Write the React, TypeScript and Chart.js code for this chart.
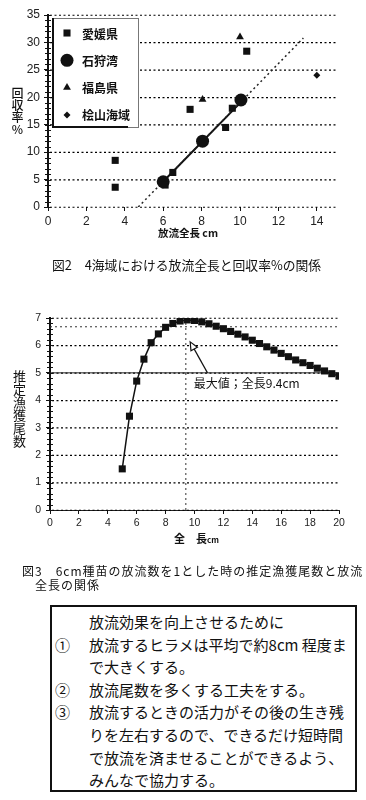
import React, { useEffect, useRef } from "react";
import { Chart, registerables } from "chart.js";

Chart.register(...registerables);

// ---------- 図2 data ----------
const regionNames = ["愛媛県", "石狩湾", "福島県", "桧山海域"];
const ehimeLen = [3.5, 3.5, 6.1, 6.5, 7.4, 9.25, 9.6, 10.35];
const ehimeRate = [8.5, 3.6, 4.0, 6.3, 17.8, 14.5, 18.0, 28.4];
const ishikariLen = [6.0, 8.05, 10.05];
const ishikariRate = [4.6, 12.0, 19.5];
const fukushimaLen = [8.05, 10.0];
const fukushimaRate = [19.6, 31.0];
const hiyamaLen = [14.0];
const hiyamaRate = [24.0];
const trendDotLen = [4.7, 13.3];
const trendDotRate = [0, 30.8];
const trendSolidLen = [6.0, 10.1];
const trendSolidRate = [4.65, 19.3];
const fig2XTicks = [0, 2, 4, 6, 8, 10, 12, 14];
const fig2YTicks = [0, 5, 10, 15, 20, 25, 30, 35];

// ---------- 図3 data ----------
const releaseLen = [
  5, 5.5, 6, 6.5, 7, 7.5, 8, 8.5, 9, 9.5, 10, 10.5, 11, 11.5, 12, 12.5, 13,
  13.5, 14, 14.5, 15, 15.5, 16, 16.5, 17, 17.5, 18, 18.5, 19, 19.5, 20,
];
const estCatch = [
  1.5, 3.42, 4.7, 5.5, 6.1, 6.42, 6.66, 6.8, 6.89, 6.93, 6.91, 6.86, 6.79,
  6.7, 6.61, 6.51, 6.41, 6.31, 6.19, 6.07, 5.95, 5.83, 5.71, 5.59, 5.47, 5.37,
  5.27, 5.17, 5.07, 4.97, 4.88,
];
const fig3XTicks = [0, 2, 4, 6, 8, 10, 12, 14, 16, 18, 20];
const fig3YTicks = [0, 1, 2, 3, 4, 5, 6, 7];
const maxLen = 9.4;
const baseLevel = 5;
const refLevel = 6.68;

const pts = (xs: number[], ys: number[]) => xs.map((x, i) => ({ x, y: ys[i] }));

const INK = "#111";

function drawMarker(ctx: CanvasRenderingContext2D, style: string, x: number, y: number, r: number) {
  ctx.beginPath();
  if (style === "rect") {
    const s = Math.SQRT1_2 * r;
    ctx.rect(x - s, y - s, 2 * s, 2 * s);
  } else if (style === "circle") {
    ctx.arc(x, y, r, 0, Math.PI * 2);
  } else if (style === "triangle") {
    ctx.moveTo(x, y - r);
    ctx.lineTo(x + r * 0.87, y + r * 0.5);
    ctx.lineTo(x - r * 0.87, y + r * 0.5);
    ctx.closePath();
  } else {
    ctx.moveTo(x, y - r);
    ctx.lineTo(x + r, y);
    ctx.lineTo(x, y + r);
    ctx.lineTo(x - r, y);
    ctx.closePath();
  }
  ctx.fill();
}

// dotted horizontal grid lines at the y scale's ticks
const dottedGrid = {
  id: "dottedGrid",
  beforeDatasetsDraw(chart: any) {
    const { ctx, chartArea } = chart;
    const s = chart.scales.y;
    ctx.save();
    ctx.strokeStyle = "#000";
    ctx.lineWidth = 1.2;
    ctx.setLineDash([2, 2.5]);
    s.ticks.forEach((t: any) => {
      const py = s.getPixelForValue(t.value) + 0.25;
      ctx.beginPath();
      ctx.moveTo(chartArea.left + 2, py);
      ctx.lineTo(chartArea.right, py);
      ctx.stroke();
    });
    ctx.restore();
  },
};

const insideLegend = {
  id: "insideLegend",
  afterDatasetsDraw(chart: any) {
    const { ctx, chartArea } = chart;
    const bx = chartArea.left + 4;
    const by = chartArea.top + 3;
    const bw = 86;
    const bh = 109;
    ctx.save();
    ctx.setLineDash([]);
    ctx.fillStyle = "#fff";
    ctx.fillRect(bx, by, bw, bh);
    ctx.strokeStyle = "#777";
    ctx.lineWidth = 1;
    ctx.strokeRect(bx + 0.5, by + 0.5, bw, bh);
    ctx.strokeStyle = INK;
    ctx.lineWidth = 2;
    ctx.beginPath();
    ctx.moveTo(bx, by + bh);
    ctx.lineTo(bx + bw - 10, by + bh);
    ctx.stroke();
    ctx.beginPath();
    ctx.moveTo(bx + 1, by);
    ctx.lineTo(bx + 1, by + bh);
    ctx.stroke();
    ctx.font = 'bold 12px "Noto Sans CJK JP", sans-serif';
    ctx.textBaseline = "middle";
    ctx.textAlign = "left";
    chart.data.datasets.slice(0, 4).forEach((ds: any, i: number) => {
      const y = by + 15 + i * 27.3;
      ctx.fillStyle = INK;
      drawMarker(ctx, ds.pointStyle, bx + 15, y, ds.pointRadius);
      ctx.fillText(ds.label, bx + 30, y + 1);
    });
    ctx.restore();
  },
};

const minorTicks = (step: number, len: number) => ({
  id: "minorTicks",
  afterDraw(chart: any) {
    const { ctx, chartArea } = chart;
    const s = chart.scales.y;
    const n = Math.round((s.max - s.min) / step);
    ctx.save();
    ctx.setLineDash([]);
    ctx.strokeStyle = INK;
    ctx.lineWidth = 1;
    ctx.beginPath();
    for (let i = 0; i <= n; i++) {
      const py = Math.round(s.getPixelForValue(s.min + i * step)) + 0.5;
      ctx.moveTo(chartArea.left - len, py);
      ctx.lineTo(chartArea.left + len, py);
    }
    ctx.stroke();
    ctx.restore();
  },
});

const maxAnnot = {
  id: "maxAnnot",
  afterDatasetsDraw(chart: any) {
    const { ctx } = chart;
    const { x, y } = chart.scales;
    const tx = x.getPixelForValue(10.9);
    const ty = y.getPixelForValue(5.0);
    const hx = x.getPixelForValue(9.7);
    const hy = y.getPixelForValue(6.13);
    ctx.save();
    ctx.setLineDash([]);
    ctx.strokeStyle = INK;
    ctx.lineWidth = 1.2;
    const ang = Math.atan2(hy - ty, hx - tx);
    const L = 9;
    const W = 0.42;
    const bxm = hx - L * 0.8 * Math.cos(ang);
    const bym = hy - L * 0.8 * Math.sin(ang);
    ctx.beginPath();
    ctx.moveTo(tx, ty);
    ctx.lineTo(bxm, bym);
    ctx.stroke();
    ctx.beginPath();
    ctx.moveTo(hx, hy);
    ctx.lineTo(hx - L * Math.cos(ang - W), hy - L * Math.sin(ang - W));
    ctx.lineTo(hx - L * Math.cos(ang + W), hy - L * Math.sin(ang + W));
    ctx.closePath();
    ctx.fillStyle = "#fff";
    ctx.fill();
    ctx.stroke();
    ctx.fillStyle = INK;
    ctx.font = '12px "Noto Sans CJK JP", sans-serif';
    ctx.textBaseline = "middle";
    ctx.textAlign = "left";
    ctx.fillText("最大値；全長9.4cm", x.getPixelForValue(9.95), y.getPixelForValue(4.62));
    ctx.restore();
  },
};

export default function App() {
  const ref1 = useRef<HTMLCanvasElement>(null);
  const ref2 = useRef<HTMLCanvasElement>(null);

  useEffect(() => {
    const tick1 = { family: '"Liberation Sans", Arial, sans-serif', size: 12 };
    const tick2 = { family: '"Liberation Sans", Arial, sans-serif', size: 10.5 };

    const c1 = new Chart(ref1.current as HTMLCanvasElement, {
      type: "scatter",
      data: {
        datasets: [
          { label: regionNames[0], data: pts(ehimeLen, ehimeRate), pointStyle: "rect", pointRadius: 5, backgroundColor: INK, borderColor: INK, borderWidth: 0 },
          { label: regionNames[1], data: pts(ishikariLen, ishikariRate), pointStyle: "circle", pointRadius: 6.5, backgroundColor: INK, borderColor: INK, borderWidth: 0 },
          { label: regionNames[2], data: pts(fukushimaLen, fukushimaRate), pointStyle: "triangle", pointRadius: 4.5, backgroundColor: INK, borderColor: INK, borderWidth: 0 },
          { label: regionNames[3], data: pts(hiyamaLen, hiyamaRate), pointStyle: "rectRot", pointRadius: 3.5, backgroundColor: INK, borderColor: INK, borderWidth: 0 },
          { label: "trendDot", data: pts(trendDotLen, trendDotRate), showLine: true, borderDash: [2, 3], borderWidth: 1.5, borderColor: "#222", pointRadius: 0 },
          { label: "trendSolid", data: pts(trendSolidLen, trendSolidRate), showLine: true, borderWidth: 2, borderColor: INK, pointRadius: 0 },
        ] as any,
      },
      options: {
        responsive: false,
        animation: false,
        devicePixelRatio: 1,
        layout: { padding: { top: 15, right: 30, left: 0, bottom: 0 } },
        plugins: { legend: { display: false }, tooltip: { enabled: false } },
        scales: {
          x: {
            type: "linear",
            min: 0,
            max: 15,
            afterBuildTicks: (s: any) => { s.ticks = fig2XTicks.map((v) => ({ value: v })); },
            afterFit: (s: any) => { s.height = 43; },
            grid: { drawOnChartArea: false, drawTicks: true, tickLength: 4, color: INK },
            border: { display: false },
            ticks: { font: tick1, color: "#222", padding: 3, maxRotation: 0 },
          },
          y: {
            min: 0,
            max: 35,
            afterBuildTicks: (s: any) => { s.ticks = fig2YTicks.map((v) => ({ value: v })); },
            afterFit: (s: any) => { s.width = 48; },
            grid: { drawOnChartArea: false, drawTicks: true, tickLength: 4, color: INK },
            border: { display: true, color: INK, width: 2 },
            ticks: { font: tick1, color: "#222", padding: 4 },
          },
        },
      } as any,
      plugins: [dottedGrid, insideLegend, minorTicks(1, 3)],
    });

    const c2 = new Chart(ref2.current as HTMLCanvasElement, {
      type: "scatter",
      data: {
        datasets: [
          { label: "推定漁獲尾数", data: pts(releaseLen, estCatch), showLine: true, borderColor: INK, borderWidth: 1.5, pointStyle: "rect", pointRadius: 5, backgroundColor: INK, pointBorderWidth: 0 },
          { label: "base", data: pts([0, 20], [baseLevel, baseLevel]), showLine: true, borderColor: "#222", borderWidth: 1, pointRadius: 0 },
          { label: "ref", data: pts([0, 20], [refLevel, refLevel]), showLine: true, borderColor: "#333", borderWidth: 1, borderDash: [2, 3], pointRadius: 0 },
          { label: "max", data: pts([maxLen, maxLen], [0, 7]), showLine: true, borderColor: "#333", borderWidth: 1, borderDash: [2, 3], pointRadius: 0 },
        ] as any,
      },
      options: {
        responsive: false,
        animation: false,
        devicePixelRatio: 1,
        layout: { padding: { top: 28, right: 27, left: 0, bottom: 0 } },
        plugins: { legend: { display: false }, tooltip: { enabled: false } },
        scales: {
          x: {
            type: "linear",
            min: 0,
            max: 20,
            afterBuildTicks: (s: any) => { s.ticks = fig3XTicks.map((v) => ({ value: v })); },
            afterFit: (s: any) => { s.height = 40; },
            grid: { drawOnChartArea: false, drawTicks: true, tickLength: 4, color: INK },
            border: { display: true, color: "#222", width: 1 },
            ticks: { font: tick2, color: "#222", padding: 3, maxRotation: 0 },
          },
          y: {
            min: 0,
            max: 7,
            afterBuildTicks: (s: any) => { s.ticks = fig3YTicks.map((v) => ({ value: v })); },
            afterFit: (s: any) => { s.width = 50; },
            grid: { drawOnChartArea: false, drawTicks: true, tickLength: 4, color: INK },
            border: { display: true, color: INK, width: 2 },
            ticks: { font: tick2, color: "#222", padding: 5 },
          },
        },
      } as any,
      plugins: [dottedGrid, maxAnnot, minorTicks(0.2, 3)],
    });

    return () => {
      c1.destroy();
      c2.destroy();
    };
  }, []);

  const jp = '"Noto Sans CJK JP", sans-serif';
  const boxRows: [string, string][] = [
    ["", "放流効果を向上させるために"],
    ["①", "放流するヒラメは平均で約8cm 程度ま"],
    ["", "で大きくする。"],
    ["②", "放流尾数を多くする工夫をする。"],
    ["③", "放流するときの活力がその後の生き残"],
    ["", "りを左右するので、できるだけ短時間"],
    ["", "で放流を済ませることができるよう、"],
    ["", "みんなで協力する。"],
  ];

  return (
    <div
      style={{
        position: "absolute",
        left: 0,
        top: 0,
        width: 366,
        height: 800,
        background: "#fff",
        overflow: "hidden",
        fontFamily: jp,
        color: INK,
      }}
    >
      <canvas ref={ref1} width={366} height={250} style={{ position: "absolute", left: 0, top: 0 }} />
      <div
        style={{
          position: "absolute",
          left: 10,
          top: 87,
          fontSize: 12,
          lineHeight: "14px",
          writingMode: "vertical-rl",
          textOrientation: "upright",
          fontWeight: 500,
        }}
      >
        回収率%
      </div>
      <div
        style={{
          position: "absolute",
          left: 0,
          width: 376,
          top: 225,
          textAlign: "center",
          fontSize: 10.5,
          lineHeight: "16px",
          fontWeight: 700,
          whiteSpace: "nowrap",
        }}
      >
        放流全長 cm
      </div>
      <div
        style={{
          position: "absolute",
          left: 52,
          top: 257,
          fontSize: 12.8,
          lineHeight: "16px",
          whiteSpace: "nowrap",
        }}
      >
        図2　4海域における放流全長と回収率%の関係
      </div>

      <canvas ref={ref2} width={366} height={260} style={{ position: "absolute", left: 0, top: 290 }} />
      <div
        style={{
          position: "absolute",
          left: 12,
          top: 370,
          fontSize: 13,
          lineHeight: "15px",
          writingMode: "vertical-rl",
          textOrientation: "upright",
        }}
      >
        推定漁獲尾数
      </div>
      <div
        style={{
          position: "absolute",
          left: 174,
          top: 530,
          fontSize: 11,
          lineHeight: "16px",
          fontWeight: 700,
          whiteSpace: "nowrap",
        }}
      >
        全　長<span style={{ fontSize: 8 }}>cm</span>
      </div>
      <div
        style={{
          position: "absolute",
          left: 22,
          top: 564,
          fontSize: 12,
          lineHeight: "14px",
          letterSpacing: 1,
          whiteSpace: "nowrap",
        }}
      >
        <div>図3　6cm種苗の放流数を1とした時の推定漁獲尾数と放流</div>
        <div style={{ paddingLeft: 13 }}>全長の関係</div>
      </div>

      <div
        style={{
          position: "absolute",
          left: 50,
          top: 605,
          width: 307,
          height: 187,
          boxSizing: "border-box",
          border: "2px solid #111",
          paddingTop: 4,
          paddingLeft: 3,
          fontSize: 15,
          lineHeight: "22.6px",
          whiteSpace: "nowrap",
        }}
      >
        {boxRows.map(([num, text], i) => (
          <div key={i} style={{ display: "flex", height: 22.6 }}>
            <span style={{ width: 34, flex: "0 0 34px" }}>{num}</span>
            <span>{text}</span>
          </div>
        ))}
      </div>
    </div>
  );
}
